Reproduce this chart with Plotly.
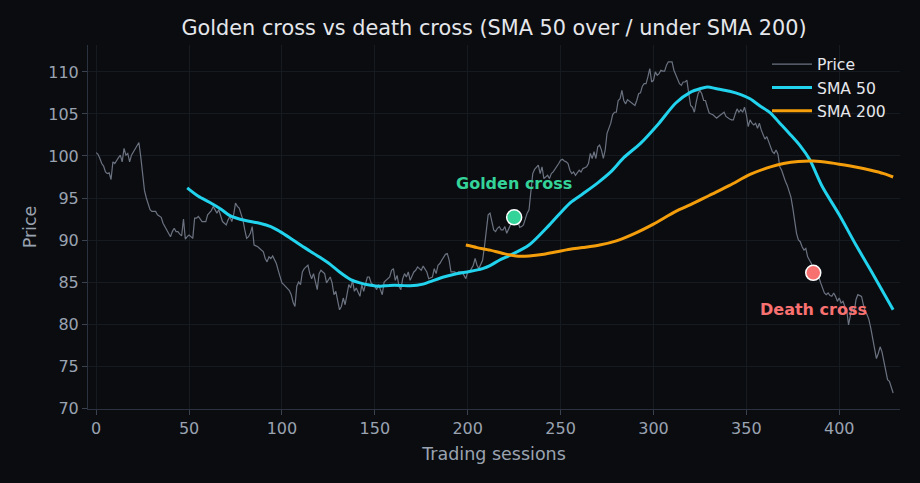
import plotly.graph_objects as go

# ---------------- data ----------------
price_sessions = list(range(0, 430))
price_values = [
    100.4, 100.2, 99.7, 99.1, 98.8, 98.1, 97.9, 98.0, 97.2, 99.3,
    99.1, 99.5, 99.8, 100.1, 99.3, 100.9, 100.1, 100.3, 99.3, 100.1,
    100.5, 100.9, 101.2, 101.6, 99.9, 97.9, 95.9, 95.0, 94.2, 93.6,
    93.4, 93.4, 93.4, 93.0, 92.8, 92.7, 92.0, 91.6, 91.2, 90.8,
    90.4, 91.0, 91.4, 91.0, 91.0, 90.7, 90.5, 92.5, 90.1, 90.4,
    90.6, 90.4, 90.2, 92.6, 92.6, 92.8, 92.5, 92.2, 92.2, 92.2,
    93.0, 93.2, 93.5, 94.0, 93.6, 93.2, 93.6, 92.8, 92.2, 92.0,
    91.8, 92.4, 92.8, 92.2, 93.0, 94.4, 94.0, 93.8, 93.2, 92.4,
    91.2, 90.2, 90.4, 90.8, 91.6, 89.4, 89.3, 89.2, 89.0, 88.8,
    88.6, 87.8, 87.4, 88.0, 87.8, 88.1, 87.6, 87.2, 86.4, 85.6,
    84.9, 84.7, 84.5, 84.3, 84.0, 83.5, 82.6, 82.1, 84.5, 85.0,
    84.7, 86.2, 86.6, 86.8, 87.0, 86.0, 85.4, 86.0, 85.2, 84.1,
    86.0, 86.4, 86.2, 86.0, 84.9, 85.3, 85.6, 84.9, 83.5, 83.9,
    82.8, 81.7, 82.1, 83.1, 82.3, 83.5, 84.7, 84.3, 85.2, 83.9,
    84.3, 83.8, 83.3, 84.7, 83.9, 84.8, 85.6, 85.6, 84.9, 84.7,
    84.5, 84.1, 84.7, 84.1, 83.5, 85.0, 85.2, 85.4, 85.6, 86.4,
    86.6, 85.2, 85.8, 84.5, 84.1, 85.4, 86.0, 85.6, 86.2, 85.2,
    85.8, 86.2, 86.4, 86.8, 86.6, 86.4, 86.9, 86.5, 86.2, 85.4,
    85.5, 85.6, 86.6, 86.0, 87.0, 87.2, 87.6, 88.0, 88.3, 88.4,
    87.6, 86.2, 86.2, 86.2, 86.0, 86.2, 86.2, 86.2, 85.8, 85.4,
    86.2, 86.2, 86.6, 87.0, 87.8, 87.0, 86.6, 87.2, 87.6, 89.2,
    90.8, 93.0, 93.2, 92.0, 91.2, 91.0, 91.4, 91.6, 91.2, 91.2,
    91.6, 90.8, 91.4, 91.8, 92.0, 92.7, 92.4, 92.2, 91.5, 91.6,
    91.8, 92.6, 93.2, 93.6, 96.3, 97.9, 98.4, 98.7, 98.9, 97.9,
    98.7, 97.3, 97.5, 97.7, 97.3, 97.9, 98.1, 98.4, 98.7, 99.1,
    99.5, 99.6, 99.4, 99.3, 99.1, 98.3, 97.9, 98.1, 97.7, 98.0,
    98.3, 98.1, 98.5, 98.6, 98.7, 99.1, 100.3, 99.7, 100.5, 99.7,
    101.1, 101.3, 100.7, 99.7, 100.7, 102.7, 103.3, 103.9, 104.9, 105.2,
    105.2, 106.6, 106.8, 107.8, 106.6, 106.2, 106.7, 106.5, 106.4, 106.2,
    106.0, 106.6, 107.4, 107.5, 108.3, 108.6, 108.6, 109.4, 110.4, 108.8,
    109.0, 110.0, 109.6, 109.8, 110.2, 110.1, 110.1, 110.8, 111.2, 111.2,
    111.2, 110.2, 109.6, 109.2, 108.6, 108.4, 108.8, 108.8, 109.0, 107.4,
    106.0, 105.8, 105.2, 106.4, 107.4, 107.8, 107.4, 106.6, 106.6, 105.8,
    105.1, 105.0, 104.9, 104.7, 104.5, 104.7, 104.9, 105.1, 105.2, 104.7,
    104.5, 104.4, 104.3, 104.3, 105.0, 105.6, 105.2, 105.5, 105.2, 105.8,
    104.9, 103.5, 104.3, 103.9, 103.7, 103.9, 103.3, 103.9, 103.1, 102.5,
    102.0, 102.3, 101.7, 101.3, 100.5, 100.3, 100.7, 100.2, 98.7, 98.3,
    97.5, 97.0, 96.5, 95.9, 95.1, 93.8, 92.4, 90.8, 90.0, 89.8,
    89.2, 88.8, 89.0, 88.0, 87.6, 87.2, 86.1, 86.0, 85.8, 85.6,
    84.9, 84.2, 83.7, 83.5, 83.7, 83.4, 83.3, 83.7, 83.3, 82.7,
    83.1, 82.5, 82.7, 82.1, 81.7, 79.9, 81.1, 82.1, 81.3, 82.9,
    83.5, 83.4, 83.3, 82.3, 81.5, 81.1, 80.5, 79.5, 78.3, 77.3,
    75.9, 76.5, 77.3, 76.7, 75.7, 74.8, 73.4, 73.2, 72.6, 71.8,
]

sma50_sessions = [49, 55, 61, 67, 72, 77, 83, 88, 94, 99, 104, 110, 115, 120, 126,
                  131, 137, 142, 147, 153, 158, 164, 169, 176, 181, 187, 194, 201,
                  208, 212, 217, 223, 233, 244, 255, 262, 270, 277, 284, 293,
                  303, 312, 320, 325, 329, 334, 341, 347, 352, 357, 363, 368, 373,
                  379, 384, 391, 400, 409, 418, 429]
sma50_values = [96.2, 95.2, 94.5, 93.7, 92.9, 92.5, 92.2, 92.0, 91.6, 91.0, 90.3, 89.4,
                88.7, 88.0, 87.1, 86.2, 85.3, 84.9, 84.65, 84.5, 84.6, 84.6, 84.55, 84.75,
                85.15, 85.6, 86.0, 86.25, 86.6, 86.95, 87.6, 88.2, 89.4, 91.8, 94.4, 95.5,
                96.8, 98.1, 99.8, 101.5, 103.9, 106.3, 107.6, 108.0, 108.2, 108.0,
                107.7, 107.3, 106.8, 106.0, 105.1, 103.9, 102.7, 101.2, 99.6, 96.3, 93.0,
                89.4, 86.0, 81.7]

sma200_sessions = [199, 205, 212, 219, 226, 233, 241, 248, 255, 262, 271, 280, 290,
                   300, 312, 320, 330, 341, 352, 363, 370, 378, 386, 395, 406, 417,
                   424, 429]
sma200_values = [89.4, 89.1, 88.8, 88.4, 88.1, 88.1, 88.3, 88.6, 88.9, 89.1, 89.4, 89.9,
                 90.8, 91.9, 93.4, 94.2, 95.3, 96.5, 97.8, 98.7, 99.1, 99.35, 99.4, 99.2,
                 98.8, 98.3, 97.9, 97.5]

cross_sessions = [225, 386]
cross_prices = [92.7, 86.1]
cross_labels = ["Golden cross", "Death cross"]

x_ticks = [0, 50, 100, 150, 200, 250, 300, 350, 400]
y_ticks = [70, 75, 80, 85, 90, 95, 100, 105, 110]

# ---------------- styling ----------------
BG = "#0b0c10"
FONT = "DejaVu Sans"
TICK_COLOR = "#9aa3b0"

fig = go.Figure()
fig.add_trace(go.Scatter(x=price_sessions, y=price_values, mode="lines", name="Price",
                         line=dict(color="#6b7280", width=1.2)))
fig.add_trace(go.Scatter(x=sma50_sessions, y=sma50_values, mode="lines", name="SMA 50",
                         line=dict(color="#22d3ee", width=3, shape="spline", smoothing=0.8)))
fig.add_trace(go.Scatter(x=sma200_sessions, y=sma200_values, mode="lines", name="SMA 200",
                         line=dict(color="#f59e0b", width=3, shape="spline", smoothing=0.8)))

cross_colors = ["#34d399", "#f87171"]
fig.add_trace(go.Scatter(x=cross_sessions, y=cross_prices, mode="markers", showlegend=False,
                         marker=dict(size=15, color=cross_colors,
                                     line=dict(color="white", width=1.5))))

shifts = [34, -37]
for s, p, lab, col, sh in zip(cross_sessions, cross_prices, cross_labels, cross_colors, shifts):
    fig.add_annotation(x=s, y=p, xref="x", yref="y", text=lab, showarrow=False,
                       yshift=sh, font=dict(family=FONT, size=16, color=col, weight="bold"))

fig.update_layout(
    width=920, height=483,
    paper_bgcolor=BG, plot_bgcolor=BG,
    margin=dict(l=88, r=20, t=45, b=74),
    font=dict(family=FONT, color=TICK_COLOR),
    title=dict(text="Golden cross vs death cross (SMA 50 over / under SMA 200)",
               x=0.5, xref="paper", y=1 - 28 / 483, yref="container",
               xanchor="center", yanchor="middle",
               font=dict(family=FONT, size=20.8, color="#e5e7eb")),
    legend=dict(x=(767 - 88) / 812, y=0.993, xanchor="left", yanchor="top",
                itemwidth=40,
                bgcolor="rgba(0,0,0,0)", font=dict(family=FONT, size=15.6, color="#e5e7eb")),
    showlegend=True,
)
fig.update_xaxes(range=[-4.4, 432.7], tickvals=x_ticks, ticks="outside", ticklen=5,
                 tickcolor="#3a4250", showline=True, linecolor="#2b3340", linewidth=1,
                 showgrid=True, gridcolor="#161a21", zeroline=False,
                 tickfont=dict(size=16, color=TICK_COLOR),
                 title=dict(text="Trading sessions", font=dict(size=17.5, color=TICK_COLOR), standoff=10))
fig.update_yaxes(range=[69.9, 113.2], tickvals=y_ticks, ticks="outside", ticklen=5,
                 tickcolor="#3a4250", showline=True, linecolor="#2b3340", linewidth=1,
                 showgrid=True, gridcolor="#161a21", zeroline=False,
                 tickfont=dict(size=16, color=TICK_COLOR),
                 title=dict(text="Price", font=dict(size=17.5, color=TICK_COLOR), standoff=7))

fig.write_html("out.html")
